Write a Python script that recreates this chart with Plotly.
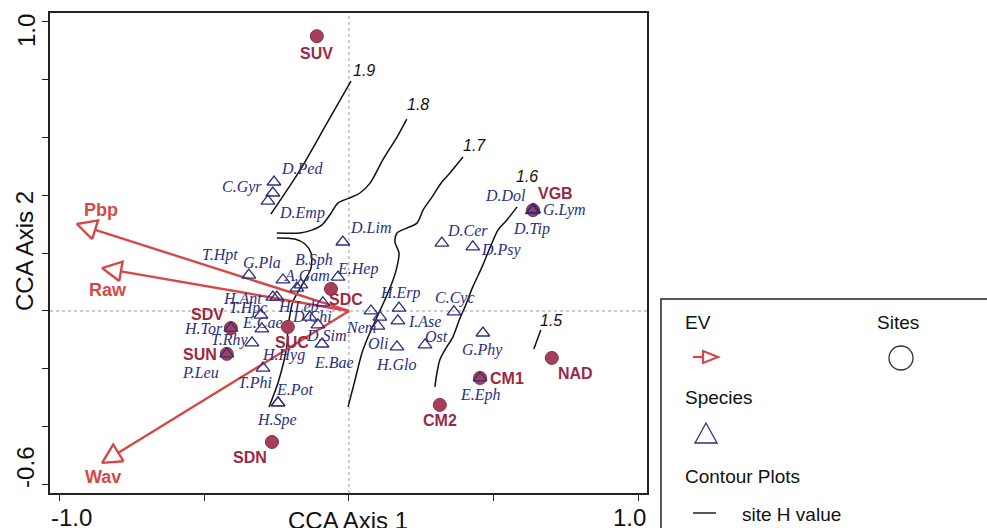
import numpy as np
import plotly.graph_objects as go

# ---------------- data ----------------
site_names = ["SUV", "VGB", "SDC", "SDV", "SUC", "SUN", "SDN", "CM1", "CM2", "NAD"]
site_x = [-0.111, 0.636, -0.062, -0.408, -0.211, -0.422, -0.266, 0.453, 0.314, 0.701]
site_y = [0.948, 0.348, 0.076, -0.059, -0.055, -0.148, -0.452, -0.231, -0.324, -0.162]

species_names = ["C.Gyr", "D.Ped", "D.Emp", "D.Lim", "D.Cer", "D.Psy", "D.Dol", "G.Lym", "D.Tip",
                 "T.Hpt", "G.Pla", "B.Sph", "A.Gam", "E.Hep", "H.Ant", "H.Leb", "T.Hpc", "E.Cae",
                 "D.Chi", "D.Sim", "E.Bae", "T.Rhy", "H.Hyg", "T.Phi", "E.Pot", "H.Spe", "H.Tor",
                 "P.Leu", "Nem", "Oli", "H.Erp", "I.Ase", "H.Glo", "Ost", "C.Cyc", "G.Phy", "E.Eph", ""]
species_x = [-0.259, -0.263, -0.280, -0.021, 0.321, 0.428, 0.636, 0.638, 0.634,
             -0.249, -0.346, -0.228, -0.166, -0.038, -0.263, -0.090, -0.304, -0.301,
             -0.135, -0.093, -0.107, -0.335, -0.297, -0.180, -0.245, -0.245, -0.408,
             -0.422, 0.100, 0.107, 0.173, 0.169, 0.166, 0.263, 0.363, 0.463, 0.453, 0.076]
species_y = [0.445, 0.407, 0.379, 0.238, 0.234, 0.221, 0.348, 0.350, 0.346,
             0.048, 0.124, 0.107, 0.090, 0.117, 0.048, 0.028, -0.014, -0.062,
             -0.021, -0.114, -0.048, -0.110, -0.197, 0.079, -0.317, -0.317, -0.059,
             -0.148, -0.052, -0.021, 0.010, -0.034, -0.124, -0.117, -0.003, -0.076, -0.231, 0.000]

ev_names = ["Pbp", "Raw", "Wav"]
ev_x = [-0.940, -0.853, -0.853]
ev_y = [0.300, 0.148, -0.524]

contour_labels = ["1.9", "1.8", "1.7", "1.6", "1.5", ""]
contour_x = [
    [-0.270, -0.169, -0.076, 0.007],
    [-0.249, -0.169, -0.128, -0.093, -0.066, -0.038, 0.003, 0.038, 0.073, 0.117, 0.166, 0.200],
    [-0.003, 0.021, 0.045, 0.066, 0.097, 0.124, 0.149, 0.166, 0.173, 0.159, 0.166, 0.200,
     0.235, 0.256, 0.287, 0.321, 0.349, 0.394],
    [0.297, 0.304, 0.314, 0.332, 0.359, 0.384, 0.401, 0.428, 0.460, 0.477, 0.494, 0.515, 0.546, 0.581],
    [0.639, 0.663],
    [-0.276, -0.242, -0.214, -0.211, -0.204, -0.194, -0.162, -0.131, -0.131, -0.152, -0.187, -0.249],
]
contour_y = [
    [0.334, 0.486, 0.648, 0.793],
    [0.269, 0.269, 0.279, 0.297, 0.331, 0.372, 0.390, 0.407, 0.441, 0.521, 0.600, 0.662],
    [-0.331, -0.238, -0.145, -0.090, -0.021, 0.038, 0.097, 0.152, 0.200, 0.238, 0.269, 0.286,
     0.303, 0.348, 0.393, 0.445, 0.476, 0.531],
    [-0.262, -0.214, -0.169, -0.134, -0.090, -0.024, 0.014, 0.083, 0.152, 0.193, 0.234, 0.279, 0.314, 0.359],
    [-0.131, -0.066],
    [-0.331, -0.238, -0.117, -0.059, -0.014, 0.031, 0.090, 0.148, 0.200, 0.231, 0.248, 0.252],
]

x_tick_vals = [-1.0, -0.5, 0.0, 0.5, 1.0]
y_tick_vals = [-0.6, -0.4, -0.2, 0.0, 0.2, 0.4, 0.6, 0.8, 1.0]

# ---------------- label placement (pixel offsets, layout only) ----------------
species_off = {
    "C.Gyr": (-32, 5), "D.Ped": (29, -25), "D.Emp": (34, 12), "D.Lim": (28, -14), "D.Cer": (26, -13),
    "D.Psy": (29, 3), "D.Dol": (-27, -15), "G.Lym": (31, 0), "D.Tip": (-1, 18), "T.Hpt": (-57, -42),
    "G.Pla": (13, -13), "B.Sph": (31, -20), "A.Gam": (6, -9), "E.Hep": (20, -8), "H.Ant": (-30, 1),
    "H.Leb": (-24, 4), "T.Hpc": (-13, -7), "E.Cae": (1, -6), "D.Chi": (2, -1), "D.Sim": (4, -9),
    "E.Bae": (16, 38), "T.Rhy": (-22, -3), "H.Hyg": (21, -13), "T.Phi": (-42, 94), "E.Pot": (17, -13),
    "H.Spe": (-1, 17), "H.Tor": (-27, 0), "P.Leu": (-26, 19), "Nem": (-17, 1), "Oli": (-2, 26),
    "H.Erp": (1, -15), "I.Ase": (27, 1), "H.Glo": (0, 18), "Ost": (11, -8), "C.Cyc": (1, -14),
    "G.Phy": (0, 17), "E.Eph": (0, 17),
}
site_off = {"SUV": (0, 17), "VGB": (23, -17), "SDC": (15, 11), "SDV": (-23, -14), "SUC": (4, 16),
            "SUN": (-27, 1), "SDN": (-22, 16), "CM1": (27, 1), "CM2": (0, 16), "NAD": (24, 16)}
ev_off = {"Pbp": (24, -14), "Raw": (6, 22), "Wav": (1, 14)}
contour_lab_off = [(13, -11), (11, -15), (12, -12), (10, -30), (10, -10), (0, 0)]

EV_RED = "#D64848"
SITE_FILL = "#A6405A"
SITE_TXT = "#9A2944"
NAVY = "#2C2F7C"

W_PX, H_PX = 987, 528
L_M, R_M, T_M, B_M = 50, W_PX - 647, 13, H_PX - 493
PW, PH = W_PX - L_M - R_M, H_PX - T_M - B_M


def PX(px):
    return (px - L_M) / PW


def PY(py):
    return (H_PX - B_M - py) / PH


fig = go.Figure()

# contours
for cx, cy in zip(contour_x, contour_y):
    fig.add_trace(go.Scatter(x=cx, y=cy, mode="lines",
                             line=dict(color="#111111", width=1.5, shape="spline", smoothing=0.8),
                             hoverinfo="skip"))

# EV arrows (open triangular heads, computed from vectors)
HL, HW = 0.066, 0.034
for name, ex, ey in zip(ev_names, ev_x, ev_y):
    v = np.array([ex, ey])
    u = v / np.linalg.norm(v)
    n = np.array([-u[1], u[0]])
    base = v - HL * u
    p1 = base + HW * n
    p2 = base - HW * n
    xs = [0, base[0], None, p1[0], v[0], p2[0], p1[0]]
    ys = [0, base[1], None, p1[1], v[1], p2[1], p1[1]]
    fig.add_trace(go.Scatter(x=xs, y=ys, mode="lines",
                             line=dict(color=EV_RED, width=2.4), hoverinfo="skip"))

# sites
fig.add_trace(go.Scatter(x=site_x, y=site_y, mode="markers",
                         marker=dict(symbol="circle", size=13, color=SITE_FILL,
                                     line=dict(color="#8A2C45", width=1)),
                         hoverinfo="skip"))

# species
fig.add_trace(go.Scatter(x=species_x, y=species_y, mode="markers",
                         marker=dict(symbol="triangle-up-open", size=12, color=NAVY,
                                     line=dict(color=NAVY, width=1.3)),
                         hoverinfo="skip"))

ann = []
for nm, sx, sy in zip(species_names, species_x, species_y):
    if not nm:
        continue
    dx, dy = species_off[nm]
    ann.append(dict(x=sx, y=sy, xref="x", yref="y", text=nm, showarrow=False,
                    xshift=dx, yshift=-dy, xanchor="center", yanchor="middle",
                    font=dict(family="Liberation Serif", size=16, color=NAVY, style="italic")))
for nm, sx, sy in zip(site_names, site_x, site_y):
    dx, dy = site_off[nm]
    ann.append(dict(x=sx, y=sy, xref="x", yref="y", text="<b>%s</b>" % nm, showarrow=False,
                    xshift=dx, yshift=-dy, xanchor="center", yanchor="middle",
                    font=dict(family="Liberation Sans", size=16, color=SITE_TXT)))
for nm, ex, ey in zip(ev_names, ev_x, ev_y):
    dx, dy = ev_off[nm]
    ann.append(dict(x=ex, y=ey, xref="x", yref="y", text="<b>%s</b>" % nm, showarrow=False,
                    xshift=dx, yshift=-dy, xanchor="center", yanchor="middle",
                    font=dict(family="Liberation Sans", size=18, color=EV_RED)))
for lab, cx, cy, (dx, dy) in zip(contour_labels, contour_x, contour_y, contour_lab_off):
    if not lab:
        continue
    ann.append(dict(x=cx[-1], y=cy[-1], xref="x", yref="y", text=lab, showarrow=False,
                    xshift=dx, yshift=-dy, xanchor="center", yanchor="middle",
                    font=dict(family="Liberation Sans", size=16, color="#111111", style="italic")))

# tick labels & axis titles
AX_FONT = dict(family="Liberation Sans", size=24, color="#111111")
ann.append(dict(x=x_tick_vals[0], y=PY(517), xref="x", yref="paper", text="-1.0", showarrow=False,
                xshift=12, xanchor="center", yanchor="middle", font=AX_FONT))
ann.append(dict(x=x_tick_vals[-1], y=PY(517), xref="x", yref="paper", text="1.0", showarrow=False,
                xshift=-9, xanchor="center", yanchor="middle", font=AX_FONT))
ann.append(dict(x=PX(26), y=y_tick_vals[-1], xref="paper", yref="y", text="1.0", showarrow=False,
                yshift=-10, textangle=-90, xanchor="center", yanchor="middle", font=AX_FONT))
ann.append(dict(x=PX(26), y=y_tick_vals[0], xref="paper", yref="y", text="-0.6", showarrow=False,
                yshift=17, textangle=-90, xanchor="center", yanchor="middle", font=AX_FONT))
ann.append(dict(x=PX(348), y=PY(520), xref="paper", yref="paper", text="CCA Axis 1", showarrow=False,
                xanchor="center", yanchor="middle", font=AX_FONT))
ann.append(dict(x=PX(24), y=PY(251), xref="paper", yref="paper", text="CCA Axis 2", showarrow=False,
                textangle=-90, xanchor="center", yanchor="middle", font=AX_FONT))

# legend box contents
LG_FONT = dict(family="Liberation Sans", size=19, color="#111111")
for txt, px, py, anc in [("EV", 683, 322, "left"), ("Sites", 898, 322, "center"),
                         ("Species", 683, 397, "left"), ("Contour Plots", 683, 476, "left"),
                         ("site H value", 740, 514, "left")]:
    ann.append(dict(x=PX(px), y=PY(py), xref="paper", yref="paper", text=txt, showarrow=False,
                    xanchor=anc, yanchor="middle", font=LG_FONT))

shapes = [
    dict(type="line", xref="x", yref="paper", x0=0, x1=0, y0=0, y1=1,
         line=dict(color="#9a9a9a", width=1, dash="dot"), layer="below"),
    dict(type="line", xref="paper", yref="y", x0=0, x1=1, y0=0, y1=0,
         line=dict(color="#9a9a9a", width=1, dash="dot"), layer="below"),
    # legend frame
    dict(type="rect", xref="paper", yref="paper", x0=PX(661), x1=PX(1000), y0=PY(540), y1=PY(299),
         line=dict(color="#222222", width=1.5)),
    # EV symbol
    dict(type="line", xref="paper", yref="paper", x0=PX(693), x1=PX(704), y0=PY(357), y1=PY(357),
         line=dict(color=EV_RED, width=2.2)),
    dict(type="path", xref="paper", yref="paper",
         path="M %f,%f L %f,%f L %f,%f Z" % (PX(703), PY(351), PX(718), PY(357), PX(703), PY(363)),
         line=dict(color=EV_RED, width=2.2)),
    # site symbol
    dict(type="circle", xref="paper", yref="paper", x0=PX(889), x1=PX(913), y0=PY(370), y1=PY(346),
         line=dict(color="#333333", width=1.3)),
    # species symbol
    dict(type="path", xref="paper", yref="paper",
         path="M %f,%f L %f,%f L %f,%f Z" % (PX(695), PY(443), PX(717), PY(443), PX(706), PY(423)),
         line=dict(color=NAVY, width=1.3)),
    # contour symbol
    dict(type="line", xref="paper", yref="paper", x0=PX(693), x1=PX(716), y0=PY(513), y1=PY(513),
         line=dict(color="#111111", width=1.4)),
]

fig.update_layout(
    width=W_PX, height=H_PX,
    margin=dict(l=L_M, r=R_M, t=T_M, b=B_M),
    paper_bgcolor="white", plot_bgcolor="white",
    showlegend=False,
    annotations=ann, shapes=shapes,
    xaxis=dict(range=[-1.033, 1.030], tickvals=x_tick_vals, showticklabels=False,
               ticks="outside", ticklen=6, tickwidth=1.3, tickcolor="#222",
               showline=True, mirror=True, linecolor="#222", linewidth=1.6,
               showgrid=False, zeroline=False),
    yaxis=dict(range=[-0.628, 1.028], tickvals=y_tick_vals, showticklabels=False,
               ticks="outside", ticklen=6, tickwidth=1.3, tickcolor="#222",
               showline=True, mirror=True, linecolor="#222", linewidth=1.6,
               showgrid=False, zeroline=False),
)

fig.write_html("out.html")
